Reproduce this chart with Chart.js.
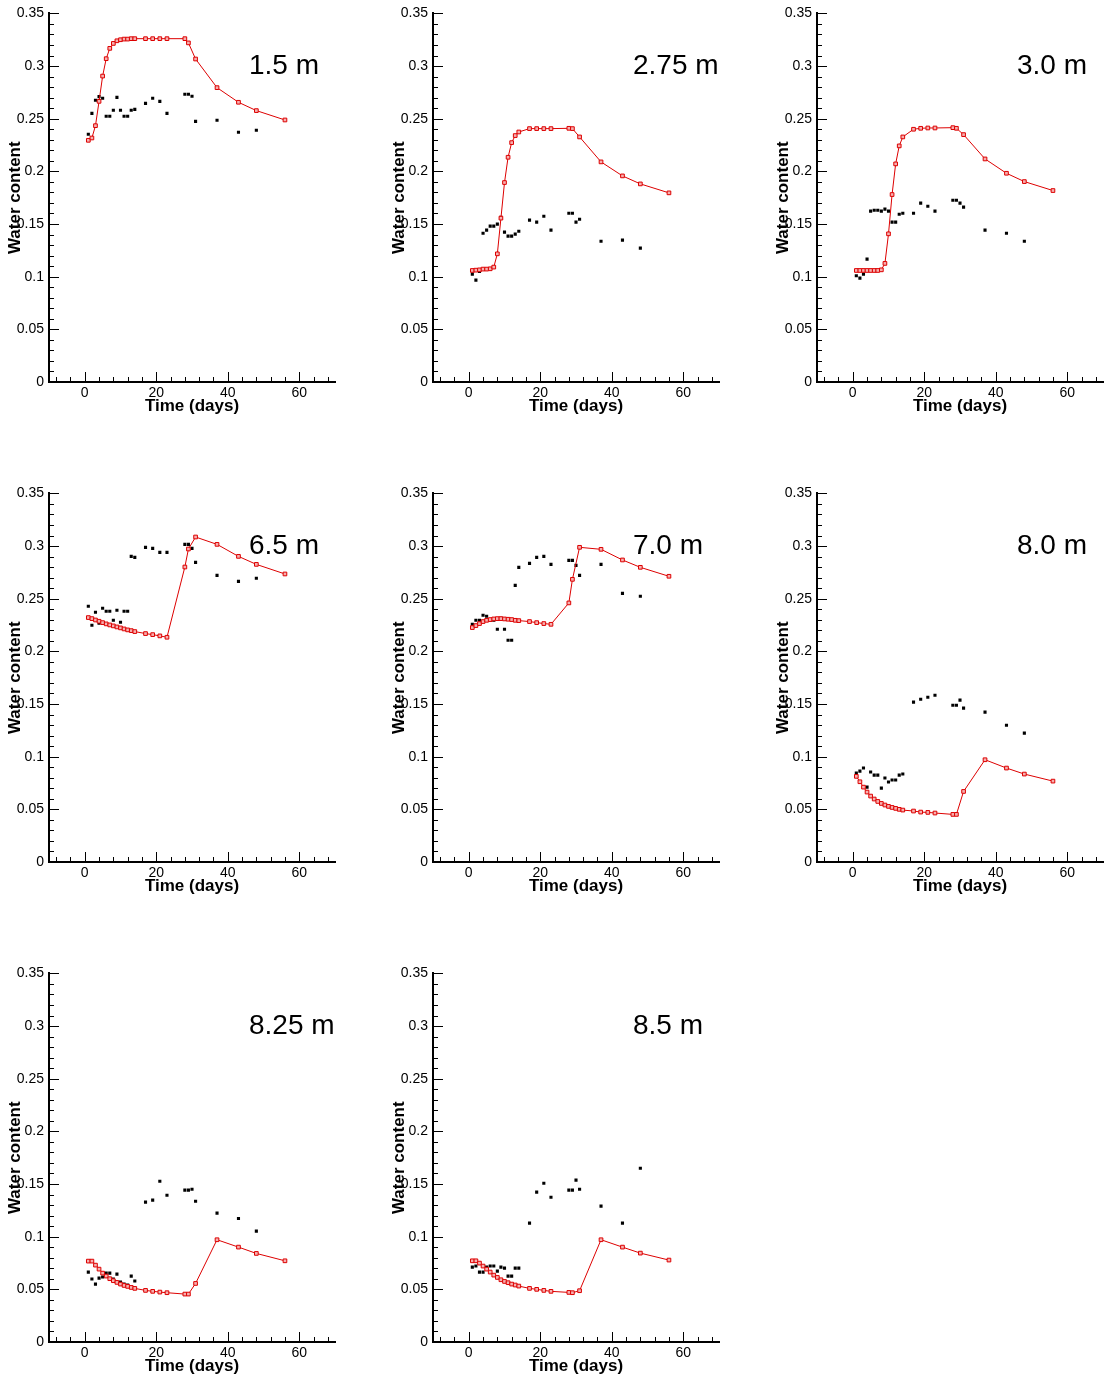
<!DOCTYPE html>
<html>
<head>
<meta charset="utf-8">
<script src="https://cdn.jsdelivr.net/npm/chart.js@4.4.0/dist/chart.umd.min.js"></script>
<style>
  body { margin: 0; background: #fff; width: 1105px; height: 1380px; position: relative; overflow: hidden; }
  .panel { position: absolute; width: 340px; height: 420px; }
</style>
</head>
<body>
<div class="panel" style="left:0;top:0"><canvas id="p0" width="340" height="420"></canvas></div>
<div class="panel" style="left:384px;top:0"><canvas id="p1" width="340" height="420"></canvas></div>
<div class="panel" style="left:768px;top:0"><canvas id="p2" width="340" height="420"></canvas></div>
<div class="panel" style="left:0;top:480px"><canvas id="p3" width="340" height="420"></canvas></div>
<div class="panel" style="left:384px;top:480px"><canvas id="p4" width="340" height="420"></canvas></div>
<div class="panel" style="left:768px;top:480px"><canvas id="p5" width="340" height="420"></canvas></div>
<div class="panel" style="left:0;top:960px"><canvas id="p6" width="340" height="420"></canvas></div>
<div class="panel" style="left:384px;top:960px"><canvas id="p7" width="340" height="420"></canvas></div>
<script>
// days of the simulated (red) and measured (black) series
const simDays = [1, 2, 3, 4, 5, 6, 7, 8, 9, 10, 11, 12, 13, 14, 17, 19, 21, 23, 28, 29, 31, 37, 43, 48, 56];
const obsDays = [1, 2, 3, 4, 5, 6, 7, 8, 9, 10, 11, 12, 13, 14, 17, 19, 21, 23, 28, 29, 30, 31, 37, 43, 48];

const depthLabels = ['1.5 m', '2.75 m', '3.0 m', '6.5 m', '7.0 m', '8.0 m', '8.25 m', '8.5 m'];

const xTickValues = [0, 20, 40, 60];
const yTickValues = [0, 0.05, 0.1, 0.15, 0.2, 0.25, 0.3, 0.35];
const yTickLabels = ['0', '0.05', '0.1', '0.15', '0.2', '0.25', '0.3', '0.35'];

// simulated water content
const sim150 = [0.2295, 0.2317, 0.2434, 0.2665, 0.2905, 0.307, 0.3168, 0.3215, 0.324, 0.325, 0.3256, 0.3256, 0.326, 0.326,
  0.326, 0.326, 0.326, 0.326, 0.326, 0.322, 0.3067, 0.2795, 0.2656, 0.2577, 0.2488];
const sim275 = [0.1059, 0.1062, 0.1065, 0.1072, 0.1072, 0.1075, 0.1091, 0.1217, 0.1556, 0.1894, 0.2134, 0.2273, 0.234, 0.2374,
  0.2406, 0.2406, 0.2406, 0.2406, 0.2409, 0.2406, 0.2327, 0.209, 0.1957, 0.1881, 0.1796];
const sim300 = [0.1059, 0.1059, 0.1059, 0.1059, 0.1059, 0.1059, 0.1059, 0.1065, 0.1126, 0.1407, 0.178, 0.2071, 0.2242, 0.2327,
  0.24, 0.2409, 0.2412, 0.2412, 0.2415, 0.2409, 0.2349, 0.2118, 0.1982, 0.1903, 0.1818];
const sim650 = [0.2321, 0.2311, 0.2298, 0.2286, 0.2273, 0.2261, 0.2251, 0.2242, 0.2232, 0.2223, 0.2213, 0.2204, 0.2197, 0.2188,
  0.2169, 0.2159, 0.2147, 0.2134, 0.2801, 0.2972, 0.3086, 0.3016, 0.2902, 0.2826, 0.2735];
const sim700 = [0.2226, 0.2245, 0.2264, 0.2283, 0.2295, 0.2302, 0.2308, 0.2311, 0.2311, 0.2308, 0.2305, 0.2302, 0.2295, 0.2292,
  0.2283, 0.2273, 0.2264, 0.2257, 0.246, 0.2684, 0.2988, 0.2969, 0.2868, 0.2798, 0.2713];
const sim800 = [0.0813, 0.0762, 0.0711, 0.0664, 0.0626, 0.0598, 0.0575, 0.0556, 0.0541, 0.0528, 0.0518, 0.0509, 0.05, 0.0493,
  0.0484, 0.0474, 0.0471, 0.0465, 0.0452, 0.0452, 0.067, 0.0971, 0.0892, 0.0835, 0.0768];
const sim825 = [0.0768, 0.0768, 0.073, 0.0692, 0.0654, 0.0626, 0.0601, 0.0582, 0.0566, 0.055, 0.0537, 0.0528, 0.0518, 0.0509,
  0.049, 0.0481, 0.0474, 0.0468, 0.0455, 0.0455, 0.0556, 0.0971, 0.0901, 0.0841, 0.0771];
const sim850 = [0.0771, 0.0771, 0.0749, 0.0721, 0.0692, 0.0664, 0.0635, 0.0613, 0.0591, 0.0575, 0.0563, 0.055, 0.0541, 0.0531,
  0.0509, 0.05, 0.049, 0.0481, 0.0471, 0.0468, 0.0487, 0.0971, 0.0901, 0.0844, 0.0778];

// measured water content
const obs150 = [0.2352, 0.2551, 0.2675, 0.271, 0.2694, 0.2523, 0.2523, 0.258, 0.2703, 0.258, 0.2523, 0.2523, 0.258, 0.2589,
  0.2646, 0.2694, 0.2665, 0.2551, 0.2732, 0.2732, 0.2713, 0.2475, 0.2485, 0.2371, 0.239];
const obs275 = [0.1024, 0.0967, 0.105, 0.1413, 0.1442, 0.148, 0.148, 0.1499, 0.1565, 0.1423, 0.1385, 0.1385, 0.1404, 0.1432,
  0.1537, 0.1518, 0.1574, 0.1442, 0.1603, 0.1603, 0.1518, 0.1546, 0.1337, 0.1347, 0.1271];
const obs300 = [0.1009, 0.0986, 0.1024, 0.1167, 0.1622, 0.1631, 0.1631, 0.1622, 0.1641, 0.1622, 0.1518, 0.1518, 0.1593, 0.1603,
  0.1603, 0.1698, 0.1669, 0.1622, 0.1726, 0.1726, 0.1698, 0.166, 0.1442, 0.1413, 0.1337];
const obs650 = [0.2428, 0.2248, 0.2371, 0.2267, 0.2409, 0.2381, 0.2381, 0.2295, 0.239, 0.2276, 0.2381, 0.2381, 0.2902, 0.2893,
  0.2988, 0.2978, 0.294, 0.294, 0.3016, 0.3016, 0.2978, 0.2845, 0.2722, 0.2665, 0.2694];
const obs700 = [0.2257, 0.2295, 0.2295, 0.2343, 0.2333, 0.2295, 0.2295, 0.221, 0.2314, 0.221, 0.2106, 0.2106, 0.2627, 0.2798,
  0.2836, 0.2893, 0.2902, 0.2826, 0.2864, 0.2864, 0.2817, 0.2722, 0.2826, 0.2551, 0.2523];
const obs800 = [0.0844, 0.0863, 0.0892, 0.0711, 0.0854, 0.0825, 0.0825, 0.0702, 0.0797, 0.0759, 0.0778, 0.0778, 0.0825, 0.0835,
  0.1518, 0.1546, 0.1565, 0.1584, 0.1489, 0.1489, 0.1537, 0.1461, 0.1423, 0.1299, 0.1224];
const obs825 = [0.0664, 0.0598, 0.055, 0.0607, 0.0617, 0.0654, 0.0654, 0.0598, 0.0645, 0.057, 0.055, 0.0541, 0.0626, 0.0579,
  0.1328, 0.1347, 0.1527, 0.1394, 0.1442, 0.1442, 0.1451, 0.1337, 0.1224, 0.1173, 0.1053];
const obs850 = [0.0711, 0.0721, 0.0664, 0.0664, 0.0711, 0.0721, 0.0721, 0.0673, 0.0711, 0.0702, 0.0626, 0.0626, 0.0702, 0.0702,
  0.1129, 0.1423, 0.1508, 0.1375, 0.1442, 0.1442, 0.1537, 0.1451, 0.129, 0.1129, 0.165];

const simSeries = [sim150, sim275, sim300, sim650, sim700, sim800, sim825, sim850];
const obsSeries = [obs150, obs275, obs300, obs650, obs700, obs800, obs825, obs850];

const FONT = '"Liberation Sans", Arial, Helvetica, sans-serif';
const RED = '#dd0000';

// tecplot style: ticks point into the plot, minor ticks every 4 days / 0.01
const inwardTicks = {
  id: 'inwardTicks',
  afterDraw(chart, args, opts) {
    const { ctx, chartArea: a, scales: { x, y } } = chart;
    ctx.save();
    ctx.strokeStyle = '#000';
    ctx.lineWidth = 1;
    ctx.beginPath();
    for (let v = -8; v <= 68; v += 4) {
      const px = Math.round(x.getPixelForValue(v)) + 0.5;
      const len = v % 20 === 0 ? 10 : 5;
      ctx.moveTo(px, a.bottom);
      ctx.lineTo(px, a.bottom - len);
    }
    for (let i = 1; i <= 35; i++) {
      const py = Math.round(y.getPixelForValue(i / 100)) + 0.5;
      const len = i % 5 === 0 ? 10 : 5;
      ctx.moveTo(a.left, py);
      ctx.lineTo(a.left + len, py);
    }
    ctx.stroke();

    ctx.fillStyle = '#000';
    ctx.font = '28px ' + FONT;
    ctx.textAlign = 'left';
    ctx.textBaseline = 'middle';
    ctx.fillText(opts.text, a.left + 200, y.getPixelForValue(0.3));
    ctx.restore();
  }
};

function makePanel(i) {
  const ctx = document.getElementById('p' + i).getContext('2d');
  return new Chart(ctx, {
    type: 'scatter',
    data: {
      datasets: [{
        type: 'line',
        data: simDays.map((d, k) => ({ x: d, y: simSeries[i][k] })),
        borderColor: RED,
        borderWidth: 1,
        tension: 0,
        pointStyle: 'rect',
        pointRadius: 2.6,
        pointBorderWidth: 1,
        pointBorderColor: RED,
        pointBackgroundColor: '#f6b0b0'
      }, {
        data: obsDays.map((d, k) => ({ x: d, y: obsSeries[i][k] })),
        showLine: false,
        pointStyle: 'rect',
        pointRadius: 2.2,
        pointBorderWidth: 0,
        pointBackgroundColor: '#000'
      }]
    },
    options: {
      responsive: false,
      animation: false,
      events: [],
      layout: { padding: { left: 0, top: 13, right: 3, bottom: 0 } },
      plugins: {
        legend: { display: false },
        tooltip: { enabled: false },
        inwardTicks: { text: depthLabels[i] }
      },
      scales: {
        x: {
          type: 'linear',
          min: -10,
          max: 70,
          afterBuildTicks: s => { s.ticks = xTickValues.map(v => ({ value: v })); },
          afterFit: s => { s.height = 38; },
          grid: { drawOnChartArea: false, drawTicks: false },
          border: { display: true, color: '#000', width: 2 },
          ticks: { color: '#000', padding: 3, autoSkip: false, maxRotation: 0, font: { family: FONT, size: 14 } },
          title: { display: true, text: 'Time (days)', color: '#000', padding: { top: 0, bottom: 3 },
                   font: { family: FONT, size: 17, weight: 'bold' } }
        },
        y: {
          type: 'linear',
          min: 0,
          max: 0.35,
          afterBuildTicks: s => { s.ticks = yTickValues.map(v => ({ value: v })); },
          afterFit: s => { s.width = 49; },
          grid: { drawOnChartArea: false, drawTicks: false },
          border: { display: true, color: '#000', width: 2 },
          ticks: { color: '#000', padding: 5, autoSkip: false,
                   callback: (v, k) => yTickLabels[k], font: { family: FONT, size: 14 } },
          title: { display: true, text: 'Water content', color: '#000', padding: { top: 5, bottom: 0 },
                   font: { family: FONT, size: 17, weight: 'bold' } }
        }
      }
    },
    plugins: [inwardTicks]
  });
}

document.addEventListener('DOMContentLoaded', () => {
  for (let i = 0; i < depthLabels.length; i++) makePanel(i);
});
</script>
</body>
</html>
